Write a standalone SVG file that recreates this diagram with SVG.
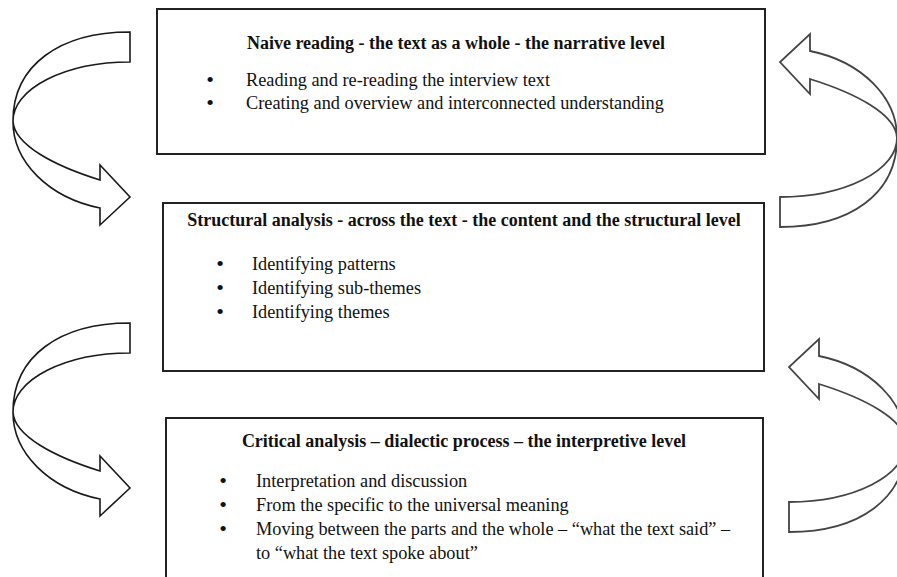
<svg xmlns="http://www.w3.org/2000/svg" width="897" height="577" viewBox="0 0 897 577">
<defs>
<style>
.box{fill:#fff;stroke:#222;stroke-width:2}
.t{font-family:"Liberation Serif","Times New Roman",serif;font-size:18.3px;fill:#111}
.h{font-weight:bold;text-anchor:middle;font-size:18px}
.b{text-anchor:middle;font-size:22px}
.arr{fill:#fff;stroke:#1a1a1a;stroke-width:1.6;stroke-linejoin:miter}
.arrR{fill:#fff;stroke:#444;stroke-width:1.8;stroke-linejoin:miter}
</style>
<path id="curve" d="M130,32 C60,32 13,65 13,121 A117,89.5 0 0 0 100,208 L100,225 L130,197 L100,165 L100,180 C55,166 14,145 13,121 A117,59 0 0 1 130,62 Z"/>
</defs>
<rect width="897" height="577" fill="#fff"/>
<g id="connectors">
<use href="#curve" class="arr"/>
<use href="#curve" class="arr" transform="translate(0,291)"/>
<use href="#curve" class="arrR" transform="rotate(180 455 129.5)"/>
<use href="#curve" class="arrR" transform="rotate(180 459.5 282)"/>
</g>
<g id="naive-reading">
<rect class="box" x="157" y="9" width="608" height="145"/>
<text class="t h" x="456" y="49">Naive reading - the text as a whole - the narrative level</text>
<text class="t b" x="210" y="87">•</text>
<text class="t" x="246" y="86">Reading and re-reading the interview text</text>
<text class="t b" x="210" y="110">•</text>
<text class="t" x="246" y="109">Creating and overview and interconnected understanding</text>
</g>
<g id="structural-analysis">
<rect class="box" x="163" y="203" width="601" height="168"/>
<text class="t h" x="464" y="226">Structural analysis - across the text - the content and the structural level</text>
<text class="t b" x="220" y="271">•</text>
<text class="t" x="252" y="270">Identifying patterns</text>
<text class="t b" x="220" y="295">•</text>
<text class="t" x="252" y="294">Identifying sub-themes</text>
<text class="t b" x="220" y="319">•</text>
<text class="t" x="252" y="318">Identifying themes</text>
</g>
<g id="critical-analysis">
<rect class="box" x="166" y="418" width="597" height="172"/>
<text class="t h" x="464" y="447">Critical analysis – dialectic process – the interpretive level</text>
<text class="t b" x="223" y="488">•</text>
<text class="t" x="256" y="487">Interpretation and discussion</text>
<text class="t b" x="223" y="512">•</text>
<text class="t" x="256" y="511">From the specific to the universal meaning</text>
<text class="t b" x="223" y="536">•</text>
<text class="t" x="256" y="535">Moving between the parts and the whole – “what the text said” –</text>
<text class="t" x="256" y="559">to “what the text spoke about”</text>
</g>
</svg>
